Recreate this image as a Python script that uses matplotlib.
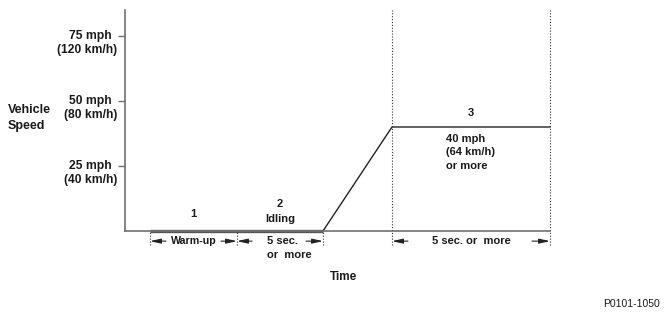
import matplotlib.pyplot as plt

plt.rcParams['font.family'] = ['Liberation Sans', 'DejaVu Sans']
plt.rcParams['font.weight'] = 'bold'
plt.rcParams['font.size'] = 8

# phase boundaries on the time axis (arbitrary units)
t_start, t_warm, t_idle, t_ramp, t_end = 0, 87, 173, 242, 400
idle_time = [t_start, t_idle]
idle_speed = [0, 0]
drive_time = [t_idle, t_ramp, t_end]
drive_speed = [0, 40, 40]

tick_mph = [25, 50, 75]
mph_labels = ['25 mph', '50 mph', '75 mph']
kmh_labels = ['(40 km/h)', '(80 km/h)', '(120 km/h)']

txt = '#1a1a1a'
axc = '#707070'

fig = plt.figure(figsize=(6.68, 3.19), dpi=100)
ax = fig.add_axes([125 / 668, 88 / 319, 425 / 668, 221 / 319])
ax.set_xlim(-25, 400)
ax.set_ylim(0, 85)
for s in ['top', 'right']:
    ax.spines[s].set_visible(False)
for s in ['left', 'bottom']:
    ax.spines[s].set_color(axc)
    ax.spines[s].set_linewidth(1.2)
ax.set_xticks([])
ax.set_yticks(tick_mph)
ax.set_yticklabels([])
ax.tick_params(axis='y', direction='out', length=5, width=1, color=axc)

ytr = ax.get_yaxis_transform()
for v, a, b in zip(tick_mph, mph_labels, kmh_labels):
    ax.text(-13 / 425, v, a, transform=ytr, ha='right', va='center', color=txt, fontsize=8.7)
    ax.text(-8 / 425, v - 5.2, b, transform=ytr, ha='right', va='center', color=txt, fontsize=8.7)

ax.text(-117 / 425, 43.5, 'Vehicle\nSpeed', transform=ytr,
        ha='left', va='center', color=txt, linespacing=1.4, fontsize=9)

# speed profile
ax.plot(idle_time, idle_speed, color='#555555', lw=2.4, clip_on=False, solid_capstyle='butt')
ax.plot(drive_time, drive_speed, color='#222222', lw=1.0, clip_on=False)

# dotted phase markers
low = -5.5
dots = (0, (1, 1.6))
ax.vlines([t_start, t_warm, t_idle], low, 0, colors='#333333', linestyles=[dots], lw=0.8, clip_on=False)
ax.vlines([t_ramp, t_end], low, 85, colors='#333333', linestyles=[dots], lw=0.8, clip_on=False)

# phase labels
ax.text((t_start + t_warm) / 2, 6.5, '1', ha='center', va='center', color=txt)
ax.text((t_warm + t_idle) / 2, 10.3, '2', ha='center', va='center', color=txt)
ax.text((t_warm + t_idle) / 2, 4.6, 'Idling', ha='center', va='center', color=txt)
ax.text((t_ramp + t_end) / 2, 45.4, '3', ha='center', va='center', color=txt)
ax.text(t_ramp + 54, 37.5, '40 mph\n(64 km/h)\nor more', ha='left', va='top',
        color=txt, linespacing=1.45)

# duration arrows under the axis
ya = -3.9
arr = dict(arrowstyle='-|>,head_length=0.8,head_width=0.18', color='#222222', lw=0.8,
           mutation_scale=8, shrinkA=0, shrinkB=0)


def arrow(x0, x1):
    ax.annotate('', xy=(x1, ya), xytext=(x0, ya), arrowprops=arr, annotation_clip=False)


arrow(t_start + 16, t_start)
arrow(t_warm - 16, t_warm)
ax.text((t_start + t_warm) / 2 + 0.5, ya, 'Warm-up', ha='center', va='center', color=txt,
        fontsize=7.7)

arrow(t_warm + 15, t_warm)
arrow(t_idle - 17, t_idle)
ax.text(t_warm + 30, ya, '5 sec.', ha='left', va='center', color=txt)
ax.text(t_warm + 30, -9.3, 'or  more', ha='left', va='center', color=txt)

arrow(t_ramp + 16, t_ramp)
arrow(t_end - 18, t_end)
ax.text((t_ramp + t_end) / 2, ya, '5 sec. or  more', ha='center', va='center', color=txt)

ax.text(t_idle + 20, -17.8, 'Time', ha='center', va='center', color=txt, fontsize=8.5)

fig.text(0.988, 1 - 304 / 319, 'P0101-1050', ha='right', va='center',
         color=txt, fontsize=7.5, fontweight='normal')

fig.savefig('out.png', dpi=100)
